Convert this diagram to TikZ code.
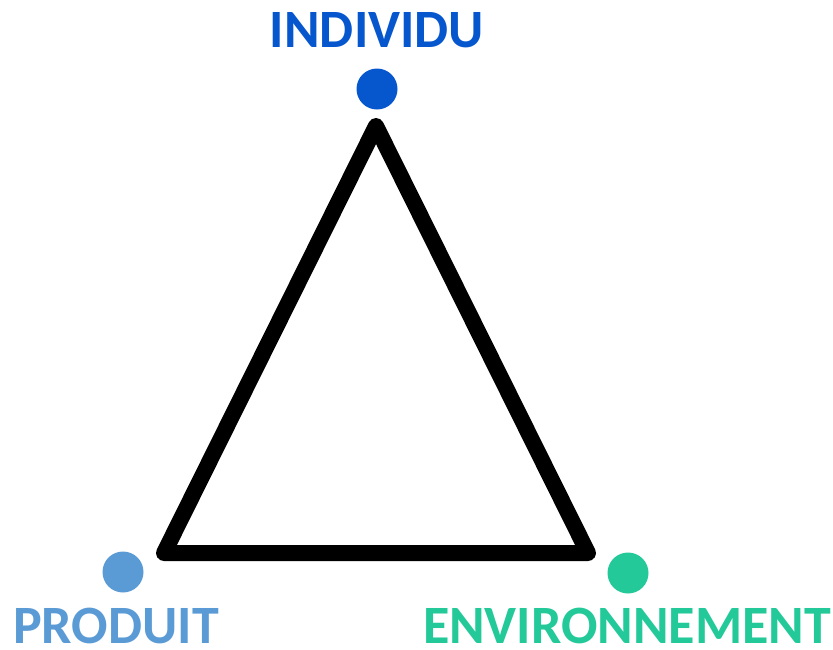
\documentclass[tikz,border=0pt]{standalone}
\usepackage{fontspec}
\setmainfont{Carlito}
\definecolor{indivblue}{RGB}{6,86,206}
\definecolor{prodblue}{RGB}{91,155,213}
\definecolor{envgreen}{RGB}{35,201,152}
\begin{document}
\begin{tikzpicture}[x=1pt,y=-1pt,
  dot/.style={circle,fill=#1,draw=none,minimum size=41pt,inner sep=0pt},
  label/.style={text=#1,font=\fontsize{54}{54}\selectfont\bfseries,inner sep=0pt,anchor=base,text depth=0pt},
  edge/.style={line width=16pt,line join=round,line cap=round}]
  \useasboundingbox (0,0) rectangle (833,649);
  % vertices of the triangle
  \coordinate (top) at (376,126);
  \coordinate (left) at (164,553);
  \coordinate (right) at (588,553);
  \draw[edge] (top) -- (left) -- (right) -- cycle;
  % coloured markers
  \node[dot=indivblue] (dtop) at (377,89) {};
  \node[dot=prodblue] (dleft) at (123,572) {};
  \node[dot=envgreen] (dright) at (628,573) {};
  % captions
  \node[label=indivblue] (tindiv) at (377,47) {INDIVIDU};
  \node[label=prodblue] (tprod) at (116,643) {PRODUIT};
  \node[label=envgreen] (tenv) at (627,643) {ENVIRONNEMENT};
\end{tikzpicture}
\end{document}
